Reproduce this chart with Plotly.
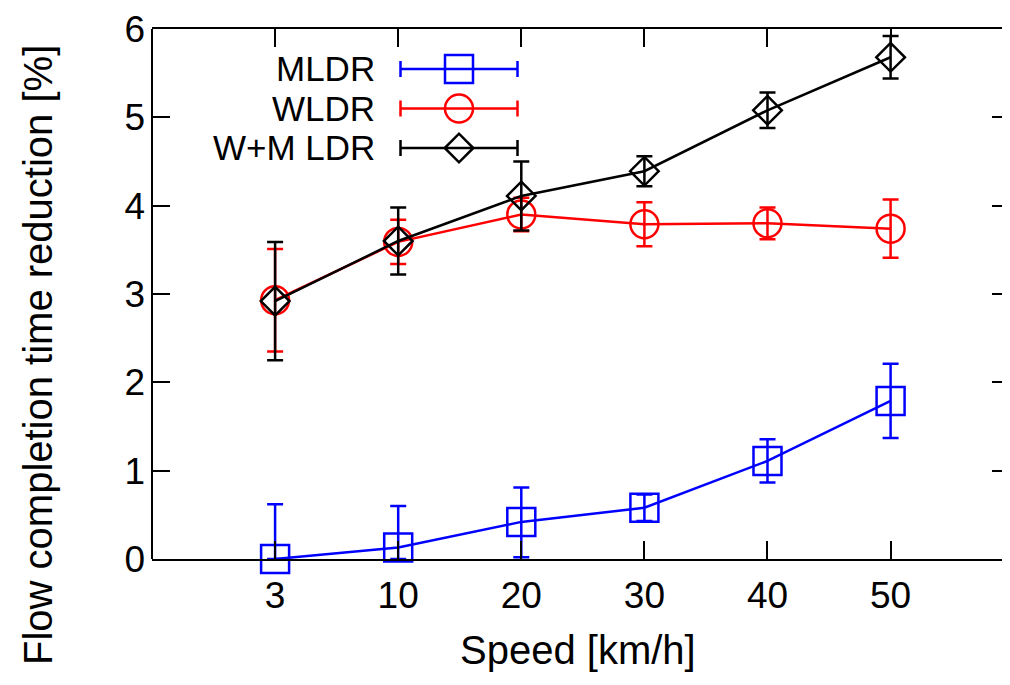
import plotly.graph_objects as go

speeds = ["3", "10", "20", "30", "40", "50"]

mldr = [0.00, 0.13, 0.42, 0.58, 1.11, 1.79]
mldr_err_plus = [0.62, 0.47, 0.39, 0.15, 0.245, 0.42]
mldr_err_minus = [0.00, 0.13, 0.40, 0.15, 0.245, 0.42]

wldr = [2.93, 3.59, 3.90, 3.79, 3.80, 3.74]
wldr_err = [0.58, 0.25, 0.19, 0.25, 0.18, 0.33]

wm = [2.92, 3.60, 4.11, 4.39, 5.08, 5.68]
wm_err = [0.67, 0.38, 0.39, 0.17, 0.20, 0.24]

series_names = ["MLDR", "WLDR", "W+M LDR"]
colors = ["#0000ff", "#ff0000", "#000000"]
symbols = ["square-open", "circle-open", "diamond-open"]
sizes = [28, 28, 22]

FONT = "Liberation Sans, Arial, Helvetica, sans-serif"
OFF = 8  # page body margin
W, H = 1002, 669
L, R, T, B = 144, 0, 21, 118
PW = W - L - R
PH = H - T - B
SCR_LEFT = L + OFF
SCR_BOTTOM = T + PH + OFF

def px_x(p):
    return (p - SCR_LEFT) / PW

def px_y(p):
    return (SCR_BOTTOM - p) / PH

fig = go.Figure()

data = [
    (mldr, mldr_err_plus, mldr_err_minus),
    (wldr, wldr_err, wldr_err),
    (wm, wm_err, wm_err),
]

for i, (vals, ep, em) in enumerate(data):
    fig.add_trace(go.Scatter(
        x=speeds, y=vals, mode="lines+markers", name=series_names[i],
        line=dict(color=colors[i], width=2.5),
        marker=dict(symbol=symbols[i], size=sizes[i], color=colors[i],
                    line=dict(color=colors[i], width=2.5)),
        error_y=dict(type="data", symmetric=False, array=ep, arrayminus=em,
                     color=colors[i], thickness=2.5, width=8),
        cliponaxis=False, showlegend=False,
    ))

# manual gnuplot-style legend (text left, sample right)
leg_rows = [69, 108.5, 148]
for i in range(3):
    fig.add_trace(go.Scatter(
        x=[px_x(459)], y=[px_y(leg_rows[i])], xaxis="x2", yaxis="y2",
        mode="markers",
        marker=dict(symbol=symbols[i], size=sizes[i], color=colors[i],
                    line=dict(color=colors[i], width=2.5)),
        error_x=dict(type="constant", value=(518 - 401) / 2 / PW,
                     color=colors[i], thickness=2.5, width=8),
        cliponaxis=False, showlegend=False, hoverinfo="skip",
    ))
    fig.add_annotation(
        text=series_names[i], xref="paper", yref="paper",
        x=px_x(376), y=px_y(leg_rows[i]), xanchor="right", yanchor="middle",
        showarrow=False, borderpad=0,
        font=dict(family=FONT, size=35, color="black"),
    )

# axis titles
fig.add_annotation(
    text="Speed [km/h]", xref="paper", yref="paper",
    x=px_x(578), y=px_y(650), xanchor="center", yanchor="middle",
    showarrow=False, font=dict(family=FONT, size=40, color="black"),
)
fig.add_annotation(
    text="Flow completion time reduction [%]", xref="paper", yref="paper",
    x=px_x(38), y=px_y(355), xanchor="center", yanchor="middle",
    textangle=-90, showarrow=False,
    font=dict(family=FONT, size=40, color="black"),
)

# left border (right border lies beyond the visible area in the reference)
fig.add_shape(type="line", xref="paper", yref="paper", x0=0, x1=0, y0=0, y1=1,
              line=dict(color="black", width=2), layer="above")

fig.update_layout(
    width=W, height=H,
    margin=dict(l=L, r=R, t=T, b=B, pad=0),
    paper_bgcolor="white", plot_bgcolor="white",
    font=dict(family=FONT, size=37, color="black"),
    showlegend=False,
    xaxis=dict(
        type="category", categoryorder="array", categoryarray=speeds,
        range=[-1, 5.97], showgrid=False, zeroline=False,
        showline=True, linecolor="black", linewidth=2, mirror="ticks",
        ticks="inside", ticklen=18, tickwidth=2, tickcolor="black",
        tickfont=dict(family=FONT, size=37, color="black"),
        ticklabelstandoff=3,
    ),
    yaxis=dict(
        range=[0, 6], tickmode="array", tickvals=[0, 1, 2, 3, 4, 5, 6],
        showgrid=False, zeroline=False,
        showline=False, mirror="ticks",
        ticks="inside", ticklen=18, tickwidth=2, tickcolor="black",
        tickfont=dict(family=FONT, size=37, color="black"),
        ticklabelstandoff=6,
    ),
    xaxis2=dict(overlaying="x", range=[0, 1], visible=False, fixedrange=True),
    yaxis2=dict(overlaying="y", range=[0, 1], visible=False, fixedrange=True),
)

fig.write_html("out.html")
